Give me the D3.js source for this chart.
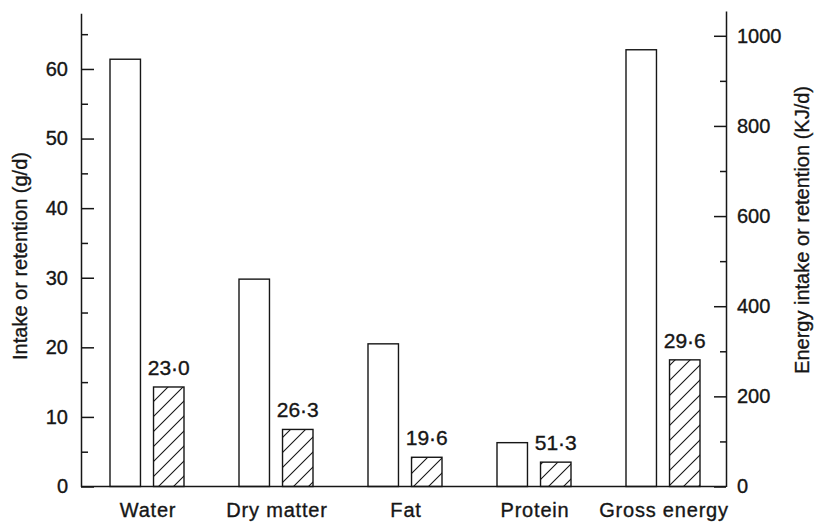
<!DOCTYPE html>
<html>
<head>
<meta charset="utf-8">
<script src="https://cdn.jsdelivr.net/npm/d3@7"></script>
<style>
  html, body { margin: 0; padding: 0; background: #fff; }
  svg { display: block; font-family: "Liberation Sans", Arial, Helvetica, sans-serif; }
  svg text { stroke: #161616; stroke-width: 0.35px; }
</style>
</head>
<body>
<svg id="chart" width="815" height="522"></svg>
<script>
// Daily intake (open bars) and retention (hatched bars).
// Water, dry matter, fat and protein in g/d (left axis); gross energy in KJ/d (right axis).
const categories = ["Water", "Dry matter", "Fat", "Protein", "Gross energy"];
const intake     = [61.4, 29.8, 20.5, 6.3, 969];
const retention  = [14.3, 8.2, 4.2, 3.5, 281];
const retainedPct = [23.0, 26.3, 19.6, 51.3, 29.6];   // retention as % of intake
const energyCategory = "Gross energy";

const leftTicks  = d3.range(0, 61, 10);
const leftMinor  = d3.range(5, 66, 10);
const rightTicks = d3.range(0, 1001, 200);
const rightMinor = d3.range(100, 1001, 200);

const ink = "#161616";
const font = "'Liberation Sans', Arial, sans-serif";
const svg = d3.select("#chart");

// hatch pattern for retention bars
const defs = svg.append("defs");
const pat = defs.append("pattern")
  .attr("id", "hatch")
  .attr("patternUnits", "userSpaceOnUse")
  .attr("width", 15).attr("height", 15);
pat.append("path")
  .attr("d", "M0,15 L15,0 M-4,4 L4,-4 M11,19 L19,11")
  .attr("stroke", ink).attr("stroke-width", 1.1).attr("fill", "none");

// scales
const x0 = d3.scaleBand().domain(categories).range([81, 726]).padding(0);
const x1 = d3.scaleBand().domain(["intake", "retention"]).range([29, 103]).paddingInner(0.3).paddingOuter(0);
const yL = d3.scaleLinear().domain([0, 68]).range([486.5, 13.3]);
const yR = d3.scaleLinear().domain([0, 1055]).range([486.5, 11]);
const yFor = c => c === energyCategory ? yR : yL;

const fmt = v => d3.format(".1f")(v).replace(".", "\u00b7");

const rows = categories.map((c, i) => ({
  cat: c, intake: intake[i], retention: retention[i], pct: retainedPct[i]
}));

// bars
const g = svg.append("g");
rows.forEach(r => {
  const y = yFor(r.cat);
  g.append("rect")
    .attr("x", x0(r.cat) + x1("intake"))
    .attr("y", y(r.intake))
    .attr("width", x1.bandwidth())
    .attr("height", y(0) - y(r.intake))
    .attr("fill", "#fff").attr("stroke", ink).attr("stroke-width", 1.4);
  g.append("rect")
    .attr("x", x0(r.cat) + x1("retention"))
    .attr("y", y(r.retention))
    .attr("width", x1.bandwidth())
    .attr("height", y(0) - y(r.retention))
    .attr("fill", "url(#hatch)").attr("stroke", ink).attr("stroke-width", 1.4);
  g.append("text")
    .attr("x", x0(r.cat) + x1("retention") + x1.bandwidth() / 2)
    .attr("y", y(r.retention) - 12)
    .attr("text-anchor", "middle")
    .attr("font-size", 21)
    .attr("fill", ink)
    .text(fmt(r.pct));
});

// baseline
svg.append("line")
  .attr("x1", x0.range()[0]).attr("x2", x0.range()[1])
  .attr("y1", yL(0)).attr("y2", yL(0))
  .attr("stroke", ink).attr("stroke-width", 1.5);

// category labels
const xAxis = svg.append("g")
  .attr("transform", `translate(${(29 + 103) / 2 - x0.bandwidth() / 2 + 1},${yL(0)})`)
  .call(d3.axisBottom(x0).tickSize(0).tickPadding(16.5));
xAxis.select(".domain").remove();
xAxis.selectAll("text").attr("font-size", 20).attr("fill", ink)
  .style("font-family", font)
  .style("letter-spacing", "0.8px");

// left axis
const la = svg.append("g").attr("transform", `translate(${x0.range()[0]},0)`);
la.call(d3.axisLeft(yL).tickValues(leftTicks).tickSizeInner(-13).tickSizeOuter(0).tickPadding(13).tickFormat(d3.format("d")));
la.append("g").call(d3.axisLeft(yL).tickValues(leftMinor).tickSizeInner(-7).tickSizeOuter(0).tickFormat(""))
  .select(".domain").remove();
la.selectAll("path, line").attr("stroke", ink).attr("stroke-width", 1.5);
la.selectAll("text").attr("font-size", 20).attr("fill", ink).style("font-family", font);

// right axis
const ra = svg.append("g").attr("transform", `translate(${x0.range()[1]},0)`);
ra.call(d3.axisRight(yR).tickValues(rightTicks).tickSizeInner(-12).tickSizeOuter(0).tickPadding(11).tickFormat(d3.format("d")));
ra.append("g").call(d3.axisRight(yR).tickValues(rightMinor).tickSizeInner(-6).tickSizeOuter(0).tickFormat(""))
  .select(".domain").remove();
ra.selectAll("path, line").attr("stroke", ink).attr("stroke-width", 1.5);
ra.selectAll("text").attr("font-size", 20).attr("fill", ink).style("font-family", font);

// axis titles
svg.append("text")
  .attr("transform", "translate(20,256) rotate(-90)")
  .attr("text-anchor", "middle").attr("dominant-baseline", "central")
  .attr("font-size", 20).attr("fill", ink)
  .text("Intake or retention (g/d)");
svg.append("text")
  .attr("transform", "translate(802,230) rotate(-90)")
  .attr("text-anchor", "middle").attr("dominant-baseline", "central")
  .attr("font-size", 20).attr("fill", ink)
  .text("Energy intake or retention (KJ/d)");
</script>
</body>
</html>
